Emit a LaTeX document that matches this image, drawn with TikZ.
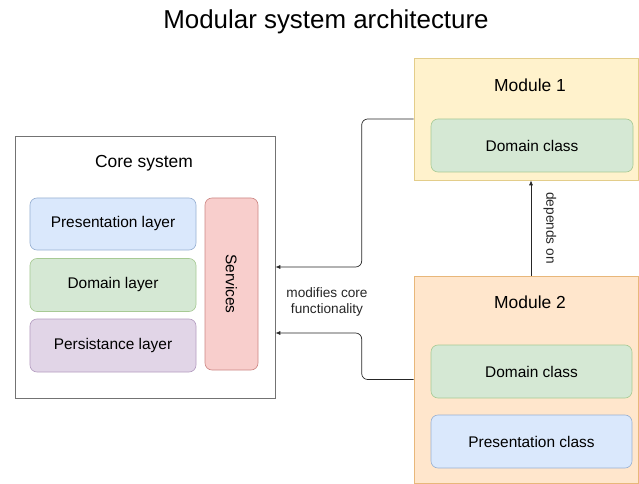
\documentclass[tikz,border=0pt]{standalone}
\usepackage{fontspec}
\setmainfont{Liberation Sans}
\usetikzlibrary{calc,arrows.meta}
\definecolor{bluef}{HTML}{DAE8FC}\definecolor{blued}{HTML}{6C8EBF}
\definecolor{greenf}{HTML}{D5E8D4}\definecolor{greend}{HTML}{82B366}
\definecolor{purf}{HTML}{E1D5E7}\definecolor{purd}{HTML}{9673A6}
\definecolor{redf}{HTML}{F8CECC}\definecolor{redd}{HTML}{B85450}
\definecolor{yelf}{HTML}{FFF2CC}\definecolor{yeld}{HTML}{E3CD8A}
\definecolor{oraf}{HTML}{FFE6CC}\definecolor{orad}{HTML}{E8B77A}
\tikzset{
  inner/.style={draw, rounded corners=7bp, line width=0.6bp, inner sep=0pt, font=\fontsize{15.5}{18}\selectfont},
  bluebox/.style={inner, fill=bluef, draw=blued!70},
  greenbox/.style={inner, fill=greenf, draw=greend!70},
  purbox/.style={inner, fill=purf, draw=purd!70},
  redbox/.style={inner, fill=redf, draw=redd!70},
  container/.style={draw, line width=0.6bp, inner sep=0pt},
  header/.style={font=\fontsize{17.5}{20}\selectfont},
  conn/.style={draw=black!85, line width=0.7bp, -{Latex[length=5bp,width=4bp]}},
  elabel/.style={font=\fontsize{13.7}{16}\selectfont, align=center, text=black!85}
}
\begin{document}
\begin{tikzpicture}[x=1bp,y=-1bp]
\useasboundingbox (0,0) rectangle (639,484);
\node[font=\fontsize{26}{31}\selectfont] (title) at (326,22) {Modular system architecture};
% core
\node[container, draw=black!55, fill=white, minimum width=260bp, minimum height=262bp] (core) at (145,267) {};
\node[header] (coret) at (144,163) {Core system};
\node[bluebox, minimum width=166bp, minimum height=52bp] (pres) at (113,224) {Presentation layer};
\node[greenbox, minimum width=166bp, minimum height=53bp] (dom) at (113,285) {Domain layer};
\node[purbox, minimum width=166bp, minimum height=53bp] (pers) at (113,345.5) {Persistance layer};
\node[redbox, minimum width=53bp, minimum height=172bp] (serv) at (231.5,284) {};
\node[font=\fontsize{15.5}{18}\selectfont, rotate=-90] (servt) at (serv.center) {Services};
% module 1
\node[container, draw=yeld, fill=yelf, minimum width=224bp, minimum height=122bp] (m1) at (526,119) {};
\node[header] (m1t) at (530,85) {Module 1};
\node[greenbox, minimum width=202bp, minimum height=53bp] (m1d) at (532,145.5) {Domain class};
% module 2
\node[container, draw=orad, fill=oraf, minimum width=224bp, minimum height=207bp] (m2) at (526,379.5) {};
\node[header] (m2t) at (530,302) {Module 2};
\node[greenbox, minimum width=201bp, minimum height=53bp] (m2d) at (531.5,371.5) {Domain class};
\node[bluebox, minimum width=201bp, minimum height=53bp] (m2p) at (531.5,441.5) {Presentation class};
% connectors
\draw[conn, rounded corners=6bp] (m1.west) -- ++(-52,0) |- (core.east);
\coordinate (core2) at ($(core.east)+(0,66)$);
\draw[conn, rounded corners=6bp] (m2.west) -- ++(-52,0) |- (core2);
\node[elabel] (mod) at (327,302) {modifies core\\functionality};
\draw[conn] ($(m2.north)+(5,0)$) -- ($(m1.south)+(5,0)$) node[midway, elabel, rotate=-90, yshift=19bp] (dep) {depends on};
\end{tikzpicture}
\end{document}
